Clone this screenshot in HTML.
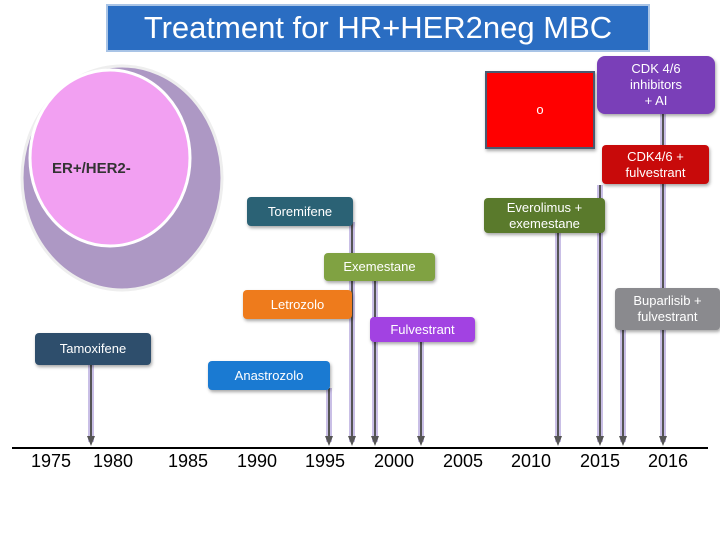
<!DOCTYPE html>
<html><head><meta charset="utf-8"><style>
body{margin:0;width:720px;height:540px;background:#fff;overflow:hidden;position:relative;font-family:"Liberation Sans",sans-serif}
.b{position:absolute;color:#fff;font-size:13px;display:flex;align-items:center;justify-content:center;text-align:center;border-radius:4px;box-shadow:1px 2px 3px rgba(0,0,0,.35);line-height:16px;font-family:"Liberation Sans Narrow","Liberation Sans",sans-serif}
.y{position:absolute;top:451px;font-size:18px;font-family:"Liberation Sans Narrow","Liberation Sans",sans-serif;color:#000;transform:translateX(-50%)}
</style></head><body>
<div style="position:absolute;left:106px;top:4px;width:540px;height:44px;background:#2a6dc2;border:2px solid #a9c4e6;color:#fff;font-size:31px;display:flex;align-items:center;justify-content:center">Treatment for HR+HER2neg MBC</div>
<svg width="720" height="540" style="position:absolute;left:0;top:0">
<ellipse cx="122" cy="178" rx="100" ry="112" fill="#ad98c4" stroke="#eee" stroke-width="3"/>
<ellipse cx="110" cy="158" rx="80" ry="88" fill="#f2a0f2" stroke="#fff" stroke-width="3"/>
<text x="52" y="173" font-size="15" font-weight="bold" fill="#333" font-family="Liberation Sans">ER+/HER2-</text>
<g id="arrows"></g>
<line x1="12" y1="448" x2="708" y2="448" stroke="#000" stroke-width="2"/>
</svg>
<script>
const arrowX=[91,329,352,375,421,558,600,623,663];
const arrowTop=[365,388,222,280,340,232,185,330,114];
const g=document.getElementById('arrows');
arrowX.forEach((x,i)=>{
 const ns='http://www.w3.org/2000/svg';
 const glow=document.createElementNS(ns,'line');
 glow.setAttribute('x1',x);glow.setAttribute('x2',x);glow.setAttribute('y1',arrowTop[i]);glow.setAttribute('y2',442);
 glow.setAttribute('stroke','#c9bfe6');glow.setAttribute('stroke-width','6');
 g.appendChild(glow);
 const l=document.createElementNS(ns,'line');
 
 
 l.setAttribute('x1',x);l.setAttribute('x2',x);l.setAttribute('y1',arrowTop[i]);l.setAttribute('y2',440);
 l.setAttribute('stroke','#555');l.setAttribute('stroke-width','2');
 g.appendChild(l);
 const p=document.createElementNS(ns,'polygon');
 
 
 p.setAttribute('points',`${x-4},436 ${x+4},436 ${x},446`);p.setAttribute('fill','#555');
 g.appendChild(p);
});
</script>
<div class="b" style="left:485px;top:71px;width:106px;height:74px;background:#f00;border:2px solid #4a5a70;border-radius:0">o</div>
<div class="b" style="left:597px;top:56px;width:118px;height:58px;background:#7a3fb8;border-radius:8px">CDK 4/6<br>inhibitors<br>+ AI</div>
<div class="b" style="left:602px;top:145px;width:107px;height:39px;background:#c80a0a">CDK4/6 +<br>fulvestrant</div>
<div class="b" style="left:247px;top:197px;width:106px;height:29px;background:#2b6275">Toremifene</div>
<div class="b" style="left:484px;top:198px;width:121px;height:35px;background:#5a7a2c">Everolimus +<br>exemestane</div>
<div class="b" style="left:324px;top:253px;width:111px;height:28px;background:#80a242">Exemestane</div>
<div class="b" style="left:243px;top:290px;width:109px;height:29px;background:#ee7b1c">Letrozolo</div>
<div class="b" style="left:370px;top:317px;width:105px;height:25px;background:#a242e2">Fulvestrant</div>
<div class="b" style="left:615px;top:288px;width:105px;height:42px;background:#8a8a8e">Buparlisib +<br>fulvestrant</div>
<div class="b" style="left:35px;top:333px;width:116px;height:32px;background:#2e4e6c">Tamoxifene</div>
<div class="b" style="left:208px;top:361px;width:122px;height:29px;background:#1a7ad2">Anastrozolo</div>
<div class="y" style="left:51px">1975</div>
<div class="y" style="left:113px">1980</div>
<div class="y" style="left:188px">1985</div>
<div class="y" style="left:257px">1990</div>
<div class="y" style="left:325px">1995</div>
<div class="y" style="left:394px">2000</div>
<div class="y" style="left:463px">2005</div>
<div class="y" style="left:531px">2010</div>
<div class="y" style="left:600px">2015</div>
<div class="y" style="left:668px">2016</div>
</body></html>
